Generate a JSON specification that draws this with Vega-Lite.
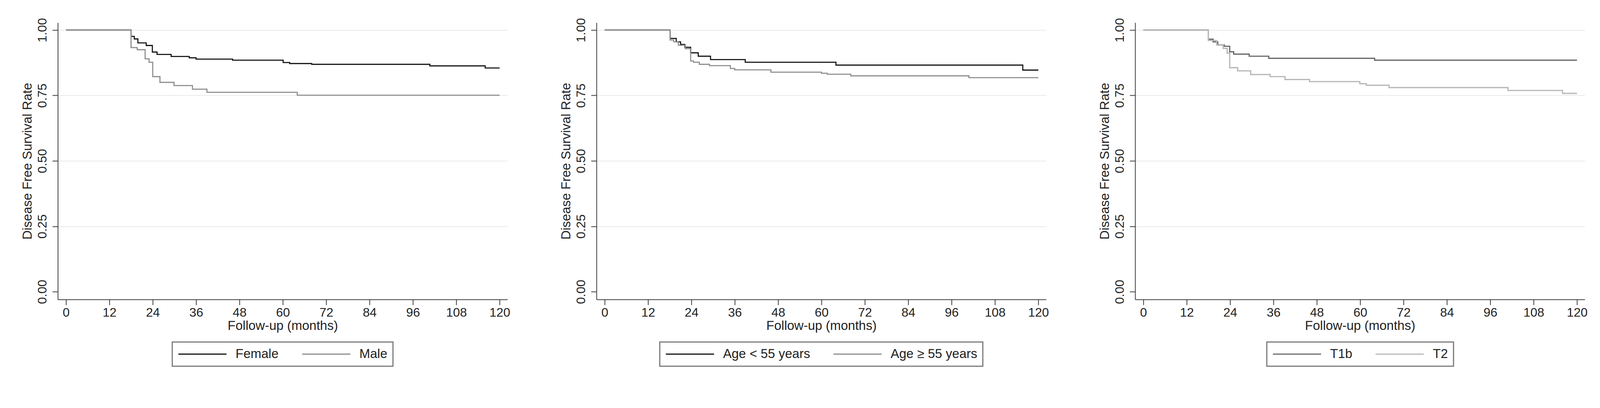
{
  "$schema": "https://vega.github.io/schema/vega-lite/v6.json",
  "background": "white",
  "padding": {"left": 54, "top": 45, "right": 0, "bottom": 0},
  "spacing": 127,
  "datasets": {
    "sex": [
      {"group": "Female", "month": 0, "survival": 1.0},
      {"group": "Female", "month": 18.0, "survival": 0.976},
      {"group": "Female", "month": 18.9, "survival": 0.966},
      {"group": "Female", "month": 19.9, "survival": 0.951},
      {"group": "Female", "month": 22.2, "survival": 0.941},
      {"group": "Female", "month": 23.9, "survival": 0.916},
      {"group": "Female", "month": 25.2, "survival": 0.907},
      {"group": "Female", "month": 29.1, "survival": 0.899},
      {"group": "Female", "month": 34.1, "survival": 0.894},
      {"group": "Female", "month": 36.0, "survival": 0.889},
      {"group": "Female", "month": 46.1, "survival": 0.885},
      {"group": "Female", "month": 60.1, "survival": 0.876},
      {"group": "Female", "month": 61.9, "survival": 0.872},
      {"group": "Female", "month": 68.0, "survival": 0.869},
      {"group": "Female", "month": 100.7, "survival": 0.863},
      {"group": "Female", "month": 116.0, "survival": 0.855},
      {"group": "Female", "month": 120.0, "survival": 0.855},
      {"group": "Male", "month": 0, "survival": 1.0},
      {"group": "Male", "month": 18.0, "survival": 0.933},
      {"group": "Male", "month": 19.7, "survival": 0.925},
      {"group": "Male", "month": 21.9, "survival": 0.89},
      {"group": "Male", "month": 23.0, "survival": 0.877},
      {"group": "Male", "month": 24.0, "survival": 0.822},
      {"group": "Male", "month": 26.0, "survival": 0.8},
      {"group": "Male", "month": 29.9, "survival": 0.788},
      {"group": "Male", "month": 35.0, "survival": 0.774},
      {"group": "Male", "month": 39.0, "survival": 0.762},
      {"group": "Male", "month": 64.0, "survival": 0.751},
      {"group": "Male", "month": 120.0, "survival": 0.751}
    ],
    "age": [
      {"group": "Age < 55 years", "month": 0, "survival": 1.0},
      {"group": "Age < 55 years", "month": 18.1, "survival": 0.968},
      {"group": "Age < 55 years", "month": 19.8, "survival": 0.955},
      {"group": "Age < 55 years", "month": 21.0, "survival": 0.945},
      {"group": "Age < 55 years", "month": 22.2, "survival": 0.934},
      {"group": "Age < 55 years", "month": 23.8, "survival": 0.913},
      {"group": "Age < 55 years", "month": 25.9, "survival": 0.9},
      {"group": "Age < 55 years", "month": 29.3, "survival": 0.887},
      {"group": "Age < 55 years", "month": 38.9, "survival": 0.877},
      {"group": "Age < 55 years", "month": 64.0, "survival": 0.866},
      {"group": "Age < 55 years", "month": 115.7, "survival": 0.847},
      {"group": "Age < 55 years", "month": 120.0, "survival": 0.847},
      {"group": "Age ≥ 55 years", "month": 0, "survival": 1.0},
      {"group": "Age ≥ 55 years", "month": 18.1, "survival": 0.962},
      {"group": "Age ≥ 55 years", "month": 19.1, "survival": 0.955},
      {"group": "Age ≥ 55 years", "month": 20.4, "survival": 0.942},
      {"group": "Age ≥ 55 years", "month": 22.3, "survival": 0.929},
      {"group": "Age ≥ 55 years", "month": 23.8, "survival": 0.882},
      {"group": "Age ≥ 55 years", "month": 24.6, "survival": 0.877},
      {"group": "Age ≥ 55 years", "month": 26.2, "survival": 0.869},
      {"group": "Age ≥ 55 years", "month": 29.0, "survival": 0.864},
      {"group": "Age ≥ 55 years", "month": 34.8, "survival": 0.853},
      {"group": "Age ≥ 55 years", "month": 36.0, "survival": 0.848},
      {"group": "Age ≥ 55 years", "month": 46.0, "survival": 0.839},
      {"group": "Age ≥ 55 years", "month": 60.0, "survival": 0.835},
      {"group": "Age ≥ 55 years", "month": 61.6, "survival": 0.831},
      {"group": "Age ≥ 55 years", "month": 68.1, "survival": 0.825},
      {"group": "Age ≥ 55 years", "month": 100.8, "survival": 0.818},
      {"group": "Age ≥ 55 years", "month": 120.0, "survival": 0.818}
    ],
    "stage": [
      {"group": "T1b", "month": 0, "survival": 1.0},
      {"group": "T1b", "month": 18.0, "survival": 0.965},
      {"group": "T1b", "month": 19.3, "survival": 0.955},
      {"group": "T1b", "month": 20.6, "survival": 0.943},
      {"group": "T1b", "month": 22.4, "survival": 0.938},
      {"group": "T1b", "month": 23.9, "survival": 0.917},
      {"group": "T1b", "month": 25.0, "survival": 0.908},
      {"group": "T1b", "month": 29.3, "survival": 0.9},
      {"group": "T1b", "month": 34.7, "survival": 0.892},
      {"group": "T1b", "month": 64.0, "survival": 0.885},
      {"group": "T1b", "month": 120.0, "survival": 0.885},
      {"group": "T2", "month": 0, "survival": 1.0},
      {"group": "T2", "month": 18.0, "survival": 0.96},
      {"group": "T2", "month": 20.3, "survival": 0.943},
      {"group": "T2", "month": 22.1, "survival": 0.93},
      {"group": "T2", "month": 23.2, "survival": 0.912},
      {"group": "T2", "month": 23.9, "survival": 0.856},
      {"group": "T2", "month": 26.1, "survival": 0.844},
      {"group": "T2", "month": 29.7, "survival": 0.83},
      {"group": "T2", "month": 35.1, "survival": 0.822},
      {"group": "T2", "month": 39.2, "survival": 0.811},
      {"group": "T2", "month": 46.0, "survival": 0.803},
      {"group": "T2", "month": 59.9, "survival": 0.795},
      {"group": "T2", "month": 61.7, "survival": 0.789},
      {"group": "T2", "month": 68.0, "survival": 0.78},
      {"group": "T2", "month": 100.9, "survival": 0.769},
      {"group": "T2", "month": 116.0, "survival": 0.758},
      {"group": "T2", "month": 120.0, "survival": 0.758}
    ]
  },
  "hconcat": [
    {
      "width": 1151,
      "height": 709,
      "data": {"name": "sex"},
      "mark": {"type": "line", "interpolate": "step-after", "strokeWidth": 2.8},
      "encoding": {
        "x": {"field": "month", "type": "quantitative", "title": "Follow-up (months)",
          "scale": {"domain": [-2.26, 122.15], "nice": false, "zero": false},
          "axis": {"values": [0, 12, 24, 36, 48, 60, 72, 84, 96, 108, 120]}},
        "y": {"field": "survival", "type": "quantitative", "title": "Disease Free Survival Rate",
          "scale": {"domain": [-0.0297, 1.0283], "nice": false, "zero": false},
          "axis": {"values": [0, 0.25, 0.5, 0.75, 1], "format": ".2f", "grid": true,
            "gridOpacity": {"condition": {"test": "datum.value == 0", "value": 0}, "value": 1}}},
        "color": {"field": "group", "type": "nominal",
          "scale": {"domain": ["Female", "Male"], "range": ["#111111", "#8c8c8c"]},
          "legend": {"title": null, "symbolType": "M-1,0H7"}}
      }
    },
    {
      "width": 1151,
      "height": 709,
      "data": {"name": "age"},
      "mark": {"type": "line", "interpolate": "step-after", "strokeWidth": 2.8},
      "encoding": {
        "x": {"field": "month", "type": "quantitative", "title": "Follow-up (months)",
          "scale": {"domain": [-2.26, 122.15], "nice": false, "zero": false},
          "axis": {"values": [0, 12, 24, 36, 48, 60, 72, 84, 96, 108, 120]}},
        "y": {"field": "survival", "type": "quantitative", "title": "Disease Free Survival Rate",
          "scale": {"domain": [-0.0297, 1.0283], "nice": false, "zero": false},
          "axis": {"values": [0, 0.25, 0.5, 0.75, 1], "format": ".2f", "grid": true,
            "gridOpacity": {"condition": {"test": "datum.value == 0", "value": 0}, "value": 1}}},
        "color": {"field": "group", "type": "nominal",
          "scale": {"domain": ["Age < 55 years", "Age ≥ 55 years"], "range": ["#111111", "#8c8c8c"]},
          "legend": {"title": null, "symbolType": "M-1,0H7"}}
      }
    },
    {
      "width": 1151,
      "height": 709,
      "data": {"name": "stage"},
      "mark": {"type": "line", "interpolate": "step-after", "strokeWidth": 3.2},
      "encoding": {
        "x": {"field": "month", "type": "quantitative", "title": "Follow-up (months)",
          "scale": {"domain": [-2.26, 122.15], "nice": false, "zero": false},
          "axis": {"values": [0, 12, 24, 36, 48, 60, 72, 84, 96, 108, 120]}},
        "y": {"field": "survival", "type": "quantitative", "title": "Disease Free Survival Rate",
          "scale": {"domain": [-0.0297, 1.0283], "nice": false, "zero": false},
          "axis": {"values": [0, 0.25, 0.5, 0.75, 1], "format": ".2f", "grid": true,
            "gridOpacity": {"condition": {"test": "datum.value == 0", "value": 0}, "value": 1}}},
        "color": {"field": "group", "type": "nominal",
          "scale": {"domain": ["T1b", "T2"], "range": ["#6a6a6a", "#b8b8b8"]},
          "legend": {"title": null, "symbolType": "M-1,0H7"}}
      }
    }
  ],
  "resolve": {"scale": {"color": "independent", "x": "independent", "y": "independent"}, "legend": {"color": "independent"}},
  "config": {
    "view": {"stroke": null},
    "font": "Liberation Sans",
    "axis": {
      "domainColor": "#3a3a3a", "domainWidth": 2,
      "tickColor": "#3a3a3a", "tickWidth": 2, "tickSize": 14,
      "labelFont": "Liberation Sans", "labelFontSize": 32, "labelColor": "#222222",
      "titleFont": "Liberation Sans", "titleFontSize": 33, "titleFontWeight": "normal", "titleColor": "#222222",
      "grid": false, "gridColor": "#e6eaed", "gridWidth": 2, "labelFlush": false
    },
    "axisX": {"labelPadding": 4, "titlePadding": 2},
    "axisY": {"labelAngle": -90, "labelAlign": "center", "labelBaseline": "bottom", "labelPadding": 9, "titlePadding": 5},
    "legend": {
      "orient": "bottom", "direction": "horizontal",
      "symbolSize": 950, "symbolStrokeWidth": 2.8,
      "labelFont": "Liberation Sans", "labelFontSize": 33, "labelColor": "#222222", "labelLimit": 600,
      "labelOffset": 114, "columnPadding": 53, "padding": 14,
      "strokeColor": "#7a7a7a", "strokeWidth": 3, "offset": 25,
      "layout": {"bottom": {"anchor": "middle"}}
    }
  }
}
